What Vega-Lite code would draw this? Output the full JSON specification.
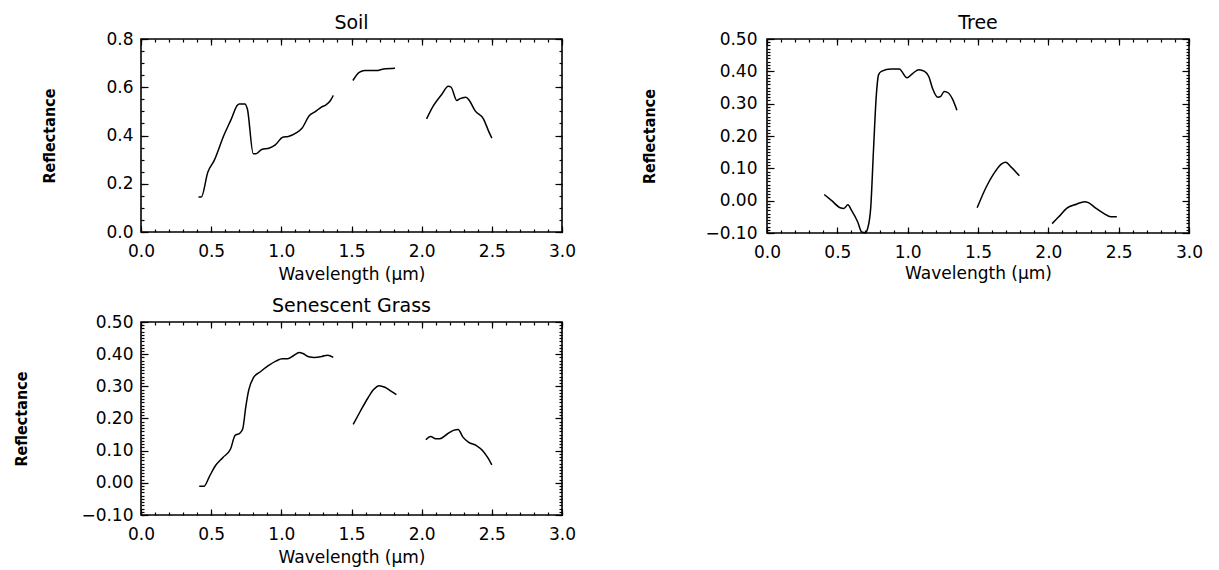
{
  "$schema": "https://vega.github.io/schema/vega-lite/v6.json",
  "padding": {"left": 12, "top": 13, "right": 5, "bottom": 2},
  "background": "white",
  "config": {
    "view": {"stroke": "black", "strokeWidth": 1.6},
    "axis": {
      "grid": false,
      "domain": false,
      "labelFont": "DejaVu Sans",
      "labelFontSize": 17,
      "labelFontWeight": "normal",
      "labelColor": "black",
      "labelFlush": false,
      "labelOverlap": false,
      "tickColor": "black",
      "tickWidth": 1.2,
      "titleColor": "black"
    },
    "axisX": {"titleFont": "DejaVu Sans", "titleFontSize": 17, "titleFontWeight": "normal"},
    "axisY": {"titleFont": "Liberation Sans Narrow, DejaVu Sans Condensed, Liberation Sans", "titleFontSize": 16, "titleFontWeight": "bold"},
    "title": {"font": "DejaVu Sans", "fontSize": 19, "fontWeight": "normal", "color": "black", "offset": -3, "frame": "group"},
    "line": {"color": "black", "strokeWidth": 1.5}
  },
  "spacing": 13,
  "vconcat": [
    {
      "spacing": 63,
      "hconcat": [
        {
          "title": "Soil",
          "width": 421,
          "height": 193,
          "data": {"values": [
            {"seg": "a", "wl": 0.41, "r": 0.145}, {"seg": "a", "wl": 0.43, "r": 0.145}, {"seg": "a", "wl": 0.476, "r": 0.248},
            {"seg": "a", "wl": 0.522, "r": 0.297}, {"seg": "a", "wl": 0.59, "r": 0.4}, {"seg": "a", "wl": 0.644, "r": 0.469},
            {"seg": "a", "wl": 0.685, "r": 0.524}, {"seg": "a", "wl": 0.7, "r": 0.531}, {"seg": "a", "wl": 0.74, "r": 0.531},
            {"seg": "a", "wl": 0.758, "r": 0.51}, {"seg": "a", "wl": 0.8, "r": 0.324}, {"seg": "a", "wl": 0.82, "r": 0.324},
            {"seg": "a", "wl": 0.86, "r": 0.342}, {"seg": "a", "wl": 0.916, "r": 0.348}, {"seg": "a", "wl": 0.957, "r": 0.361},
            {"seg": "a", "wl": 1.01, "r": 0.393}, {"seg": "a", "wl": 1.05, "r": 0.396}, {"seg": "a", "wl": 1.106, "r": 0.411},
            {"seg": "a", "wl": 1.147, "r": 0.43}, {"seg": "a", "wl": 1.2, "r": 0.483}, {"seg": "a", "wl": 1.242, "r": 0.499},
            {"seg": "a", "wl": 1.283, "r": 0.517}, {"seg": "a", "wl": 1.318, "r": 0.527}, {"seg": "a", "wl": 1.35, "r": 0.545},
            {"seg": "a", "wl": 1.37, "r": 0.566},
            {"seg": "b", "wl": 1.51, "r": 0.628}, {"seg": "b", "wl": 1.555, "r": 0.662}, {"seg": "b", "wl": 1.595, "r": 0.669},
            {"seg": "b", "wl": 1.677, "r": 0.669}, {"seg": "b", "wl": 1.73, "r": 0.676}, {"seg": "b", "wl": 1.81, "r": 0.679},
            {"seg": "c", "wl": 2.035, "r": 0.469}, {"seg": "c", "wl": 2.084, "r": 0.524}, {"seg": "c", "wl": 2.14, "r": 0.568},
            {"seg": "c", "wl": 2.19, "r": 0.604}, {"seg": "c", "wl": 2.21, "r": 0.6}, {"seg": "c", "wl": 2.25, "r": 0.545},
            {"seg": "c", "wl": 2.27, "r": 0.552}, {"seg": "c", "wl": 2.315, "r": 0.559}, {"seg": "c", "wl": 2.34, "r": 0.545},
            {"seg": "c", "wl": 2.38, "r": 0.503}, {"seg": "c", "wl": 2.44, "r": 0.469}, {"seg": "c", "wl": 2.48, "r": 0.414},
            {"seg": "c", "wl": 2.5, "r": 0.389}
          ]},
          "layer": [
            {
              "mark": {"type": "line", "interpolate": "monotone"},
              "encoding": {
                "detail": {"field": "seg"},
                "x": {"field": "wl", "type": "quantitative", "scale": {"domain": [0, 3], "nice": false, "zero": false},
                  "axis": {"orient": "bottom", "values": [0, 0.5, 1, 1.5, 2, 2.5, 3], "format": ".1f", "ticks": false, "labelPadding": 11,
                    "title": "Wavelength (μm)", "titleY": 42, "titleBaseline": "middle"}},
                "y": {"field": "r", "type": "quantitative", "scale": {"domain": [0, 0.8], "nice": false, "zero": false},
                  "axis": {"orient": "left", "values": [0, 0.2, 0.4, 0.6, 0.8], "format": ".1f", "ticks": false, "labelPadding": 8,
                    "title": "Reflectance", "titleX": -92, "titleBaseline": "middle"}}
              }
            },
            {
              "mark": {"type": "point", "opacity": 0},
              "encoding": {
                "x": {"field": "wl", "type": "quantitative", "scale": {"domain": [0, 3], "nice": false, "zero": false},
                  "axis": {"orient": "bottom", "values": [0, 0.5, 1, 1.5, 2, 2.5, 3], "labels": false, "tickSize": -6, "title": null}},
                "y": {"field": "r", "type": "quantitative", "scale": {"domain": [0, 0.8], "nice": false, "zero": false},
                  "axis": {"orient": "left", "values": [0, 0.2, 0.4, 0.6, 0.8], "labels": false, "tickSize": -7, "title": null}}
              }
            },
            {
              "mark": {"type": "point", "opacity": 0},
              "encoding": {
                "x": {"field": "wl", "type": "quantitative", "scale": {"domain": [0, 3], "nice": false, "zero": false},
                  "axis": {"orient": "top", "values": [0, 0.5, 1, 1.5, 2, 2.5, 3], "labels": false, "tickSize": -6, "title": null}},
                "y": {"field": "r", "type": "quantitative", "scale": {"domain": [0, 0.8], "nice": false, "zero": false},
                  "axis": {"orient": "right", "values": [0, 0.2, 0.4, 0.6, 0.8], "labels": false, "tickSize": -7, "title": null}}
              }
            },
            {
              "mark": {"type": "point", "opacity": 0},
              "encoding": {
                "x": {"field": "wl", "type": "quantitative", "scale": {"domain": [0, 3], "nice": false, "zero": false},
                  "axis": {"orient": "bottom", "values": [0, 0.1, 0.2, 0.3, 0.4, 0.5, 0.6, 0.7, 0.8, 0.9, 1, 1.1, 1.2, 1.3, 1.4, 1.5, 1.6, 1.7, 1.8, 1.9, 2, 2.1, 2.2, 2.3, 2.4, 2.5, 2.6, 2.7, 2.8, 2.9, 3], "labels": false, "tickSize": -3, "title": null}},
                "y": {"field": "r", "type": "quantitative", "scale": {"domain": [0, 0.8], "nice": false, "zero": false},
                  "axis": {"orient": "left", "values": [0, 0.05, 0.1, 0.15, 0.2, 0.25, 0.3, 0.35, 0.4, 0.45, 0.5, 0.55, 0.6, 0.65, 0.7, 0.75, 0.8], "labels": false, "tickSize": -3, "title": null}}
              }
            },
            {
              "mark": {"type": "point", "opacity": 0},
              "encoding": {
                "x": {"field": "wl", "type": "quantitative", "scale": {"domain": [0, 3], "nice": false, "zero": false},
                  "axis": {"orient": "top", "values": [0, 0.1, 0.2, 0.3, 0.4, 0.5, 0.6, 0.7, 0.8, 0.9, 1, 1.1, 1.2, 1.3, 1.4, 1.5, 1.6, 1.7, 1.8, 1.9, 2, 2.1, 2.2, 2.3, 2.4, 2.5, 2.6, 2.7, 2.8, 2.9, 3], "labels": false, "tickSize": -3, "title": null}},
                "y": {"field": "r", "type": "quantitative", "scale": {"domain": [0, 0.8], "nice": false, "zero": false},
                  "axis": {"orient": "right", "values": [0, 0.05, 0.1, 0.15, 0.2, 0.25, 0.3, 0.35, 0.4, 0.45, 0.5, 0.55, 0.6, 0.65, 0.7, 0.75, 0.8], "labels": false, "tickSize": -3, "title": null}}
              }
            }
          ],
          "resolve": {"axis": {"x": "independent", "y": "independent"}}
        },
        {
          "title": "Tree",
          "width": 422,
          "height": 194,
          "data": {"values": [
            {"seg": "a", "wl": 0.407, "r": 0.019}, {"seg": "a", "wl": 0.46, "r": 0.0}, {"seg": "a", "wl": 0.52, "r": -0.022},
            {"seg": "a", "wl": 0.547, "r": -0.024}, {"seg": "a", "wl": 0.575, "r": -0.013}, {"seg": "a", "wl": 0.6, "r": -0.029},
            {"seg": "a", "wl": 0.645, "r": -0.066}, {"seg": "a", "wl": 0.673, "r": -0.097}, {"seg": "a", "wl": 0.7, "r": -0.099},
            {"seg": "a", "wl": 0.715, "r": -0.087}, {"seg": "a", "wl": 0.737, "r": -0.024}, {"seg": "a", "wl": 0.757, "r": 0.156},
            {"seg": "a", "wl": 0.777, "r": 0.325}, {"seg": "a", "wl": 0.793, "r": 0.389}, {"seg": "a", "wl": 0.813, "r": 0.4},
            {"seg": "a", "wl": 0.883, "r": 0.407}, {"seg": "a", "wl": 0.94, "r": 0.407}, {"seg": "a", "wl": 0.995, "r": 0.38},
            {"seg": "a", "wl": 1.037, "r": 0.394}, {"seg": "a", "wl": 1.08, "r": 0.405}, {"seg": "a", "wl": 1.12, "r": 0.4},
            {"seg": "a", "wl": 1.15, "r": 0.384}, {"seg": "a", "wl": 1.177, "r": 0.347}, {"seg": "a", "wl": 1.214, "r": 0.32},
            {"seg": "a", "wl": 1.234, "r": 0.322}, {"seg": "a", "wl": 1.26, "r": 0.338}, {"seg": "a", "wl": 1.29, "r": 0.333},
            {"seg": "a", "wl": 1.318, "r": 0.315}, {"seg": "a", "wl": 1.35, "r": 0.28},
            {"seg": "b", "wl": 1.494, "r": -0.022}, {"seg": "b", "wl": 1.556, "r": 0.04}, {"seg": "b", "wl": 1.61, "r": 0.082},
            {"seg": "b", "wl": 1.668, "r": 0.114}, {"seg": "b", "wl": 1.696, "r": 0.119}, {"seg": "b", "wl": 1.738, "r": 0.103},
            {"seg": "b", "wl": 1.794, "r": 0.077},
            {"seg": "c", "wl": 2.027, "r": -0.071}, {"seg": "c", "wl": 2.074, "r": -0.05}, {"seg": "c", "wl": 2.13, "r": -0.024},
            {"seg": "c", "wl": 2.2, "r": -0.011}, {"seg": "c", "wl": 2.257, "r": -0.003}, {"seg": "c", "wl": 2.285, "r": -0.006},
            {"seg": "c", "wl": 2.34, "r": -0.024}, {"seg": "c", "wl": 2.396, "r": -0.04}, {"seg": "c", "wl": 2.444, "r": -0.05},
            {"seg": "c", "wl": 2.487, "r": -0.05}
          ]},
          "layer": [
            {
              "mark": {"type": "line", "interpolate": "monotone"},
              "encoding": {
                "detail": {"field": "seg"},
                "x": {"field": "wl", "type": "quantitative", "scale": {"domain": [0, 3], "nice": false, "zero": false},
                  "axis": {"orient": "bottom", "values": [0, 0.5, 1, 1.5, 2, 2.5, 3], "format": ".1f", "ticks": false, "labelPadding": 11,
                    "title": "Wavelength (μm)", "titleY": 40, "titleBaseline": "middle"}},
                "y": {"field": "r", "type": "quantitative", "scale": {"domain": [-0.1, 0.5], "nice": false, "zero": false},
                  "axis": {"orient": "left", "values": [-0.1, 0, 0.1, 0.2, 0.3, 0.4, 0.5], "format": ".2f", "ticks": false, "labelPadding": 10,
                    "title": "Reflectance", "titleX": -118, "titleBaseline": "middle"}}
              }
            },
            {
              "mark": {"type": "point", "opacity": 0},
              "encoding": {
                "x": {"field": "wl", "type": "quantitative", "scale": {"domain": [0, 3], "nice": false, "zero": false},
                  "axis": {"orient": "bottom", "values": [0, 0.5, 1, 1.5, 2, 2.5, 3], "labels": false, "tickSize": -6, "title": null}},
                "y": {"field": "r", "type": "quantitative", "scale": {"domain": [-0.1, 0.5], "nice": false, "zero": false},
                  "axis": {"orient": "left", "values": [-0.1, 0, 0.1, 0.2, 0.3, 0.4, 0.5], "labels": false, "tickSize": -7, "title": null}}
              }
            },
            {
              "mark": {"type": "point", "opacity": 0},
              "encoding": {
                "x": {"field": "wl", "type": "quantitative", "scale": {"domain": [0, 3], "nice": false, "zero": false},
                  "axis": {"orient": "top", "values": [0, 0.5, 1, 1.5, 2, 2.5, 3], "labels": false, "tickSize": -6, "title": null}},
                "y": {"field": "r", "type": "quantitative", "scale": {"domain": [-0.1, 0.5], "nice": false, "zero": false},
                  "axis": {"orient": "right", "values": [-0.1, 0, 0.1, 0.2, 0.3, 0.4, 0.5], "labels": false, "tickSize": -7, "title": null}}
              }
            },
            {
              "mark": {"type": "point", "opacity": 0},
              "encoding": {
                "x": {"field": "wl", "type": "quantitative", "scale": {"domain": [0, 3], "nice": false, "zero": false},
                  "axis": {"orient": "bottom", "values": [0, 0.1, 0.2, 0.3, 0.4, 0.5, 0.6, 0.7, 0.8, 0.9, 1, 1.1, 1.2, 1.3, 1.4, 1.5, 1.6, 1.7, 1.8, 1.9, 2, 2.1, 2.2, 2.3, 2.4, 2.5, 2.6, 2.7, 2.8, 2.9, 3], "labels": false, "tickSize": -3, "title": null}},
                "y": {"field": "r", "type": "quantitative", "scale": {"domain": [-0.1, 0.5], "nice": false, "zero": false},
                  "axis": {"orient": "left", "values": [-0.1, -0.09, -0.08, -0.07, -0.06, -0.05, -0.04, -0.03, -0.02, -0.01, 0, 0.01, 0.02, 0.03, 0.04, 0.05, 0.06, 0.07, 0.08, 0.09, 0.1, 0.11, 0.12, 0.13, 0.14, 0.15, 0.16, 0.17, 0.18, 0.19, 0.2, 0.21, 0.22, 0.23, 0.24, 0.25, 0.26, 0.27, 0.28, 0.29, 0.3, 0.31, 0.32, 0.33, 0.34, 0.35, 0.36, 0.37, 0.38, 0.39, 0.4, 0.41, 0.42, 0.43, 0.44, 0.45, 0.46, 0.47, 0.48, 0.49, 0.5], "labels": false, "tickSize": -3, "title": null}}
              }
            },
            {
              "mark": {"type": "point", "opacity": 0},
              "encoding": {
                "x": {"field": "wl", "type": "quantitative", "scale": {"domain": [0, 3], "nice": false, "zero": false},
                  "axis": {"orient": "top", "values": [0, 0.1, 0.2, 0.3, 0.4, 0.5, 0.6, 0.7, 0.8, 0.9, 1, 1.1, 1.2, 1.3, 1.4, 1.5, 1.6, 1.7, 1.8, 1.9, 2, 2.1, 2.2, 2.3, 2.4, 2.5, 2.6, 2.7, 2.8, 2.9, 3], "labels": false, "tickSize": -3, "title": null}},
                "y": {"field": "r", "type": "quantitative", "scale": {"domain": [-0.1, 0.5], "nice": false, "zero": false},
                  "axis": {"orient": "right", "values": [-0.1, -0.09, -0.08, -0.07, -0.06, -0.05, -0.04, -0.03, -0.02, -0.01, 0, 0.01, 0.02, 0.03, 0.04, 0.05, 0.06, 0.07, 0.08, 0.09, 0.1, 0.11, 0.12, 0.13, 0.14, 0.15, 0.16, 0.17, 0.18, 0.19, 0.2, 0.21, 0.22, 0.23, 0.24, 0.25, 0.26, 0.27, 0.28, 0.29, 0.3, 0.31, 0.32, 0.33, 0.34, 0.35, 0.36, 0.37, 0.38, 0.39, 0.4, 0.41, 0.42, 0.43, 0.44, 0.45, 0.46, 0.47, 0.48, 0.49, 0.5], "labels": false, "tickSize": -3, "title": null}}
              }
            }
          ],
          "resolve": {"axis": {"x": "independent", "y": "independent"}}
        }
      ]
    },
    {
      "hconcat": [
        {
          "title": "Senescent Grass",
          "width": 421,
          "height": 193,
          "data": {"values": [
            {"seg": "a", "wl": 0.415, "r": -0.011}, {"seg": "a", "wl": 0.448, "r": -0.011}, {"seg": "a", "wl": 0.489, "r": 0.021},
            {"seg": "a", "wl": 0.53, "r": 0.053}, {"seg": "a", "wl": 0.584, "r": 0.079}, {"seg": "a", "wl": 0.638, "r": 0.105},
            {"seg": "a", "wl": 0.67, "r": 0.147}, {"seg": "a", "wl": 0.706, "r": 0.155}, {"seg": "a", "wl": 0.725, "r": 0.168},
            {"seg": "a", "wl": 0.747, "r": 0.237}, {"seg": "a", "wl": 0.768, "r": 0.289}, {"seg": "a", "wl": 0.8, "r": 0.326},
            {"seg": "a", "wl": 0.855, "r": 0.347}, {"seg": "a", "wl": 0.91, "r": 0.365}, {"seg": "a", "wl": 0.964, "r": 0.379},
            {"seg": "a", "wl": 1.005, "r": 0.386}, {"seg": "a", "wl": 1.045, "r": 0.386}, {"seg": "a", "wl": 1.086, "r": 0.395},
            {"seg": "a", "wl": 1.127, "r": 0.405}, {"seg": "a", "wl": 1.154, "r": 0.402}, {"seg": "a", "wl": 1.195, "r": 0.392},
            {"seg": "a", "wl": 1.235, "r": 0.39}, {"seg": "a", "wl": 1.29, "r": 0.393}, {"seg": "a", "wl": 1.33, "r": 0.397},
            {"seg": "a", "wl": 1.37, "r": 0.39},
            {"seg": "b", "wl": 1.512, "r": 0.182}, {"seg": "b", "wl": 1.561, "r": 0.221}, {"seg": "b", "wl": 1.616, "r": 0.263},
            {"seg": "b", "wl": 1.656, "r": 0.289}, {"seg": "b", "wl": 1.697, "r": 0.302}, {"seg": "b", "wl": 1.738, "r": 0.297},
            {"seg": "b", "wl": 1.778, "r": 0.286}, {"seg": "b", "wl": 1.82, "r": 0.274},
            {"seg": "c", "wl": 2.03, "r": 0.134}, {"seg": "c", "wl": 2.064, "r": 0.144}, {"seg": "c", "wl": 2.1, "r": 0.137},
            {"seg": "c", "wl": 2.13, "r": 0.137}, {"seg": "c", "wl": 2.18, "r": 0.151}, {"seg": "c", "wl": 2.226, "r": 0.163},
            {"seg": "c", "wl": 2.26, "r": 0.166}, {"seg": "c", "wl": 2.294, "r": 0.142}, {"seg": "c", "wl": 2.335, "r": 0.126},
            {"seg": "c", "wl": 2.39, "r": 0.116}, {"seg": "c", "wl": 2.435, "r": 0.1}, {"seg": "c", "wl": 2.47, "r": 0.079},
            {"seg": "c", "wl": 2.5, "r": 0.056}
          ]},
          "layer": [
            {
              "mark": {"type": "line", "interpolate": "monotone"},
              "encoding": {
                "detail": {"field": "seg"},
                "x": {"field": "wl", "type": "quantitative", "scale": {"domain": [0, 3], "nice": false, "zero": false},
                  "axis": {"orient": "bottom", "values": [0, 0.5, 1, 1.5, 2, 2.5, 3], "format": ".1f", "ticks": false, "labelPadding": 11,
                    "title": "Wavelength (μm)", "titleY": 42, "titleBaseline": "middle"}},
                "y": {"field": "r", "type": "quantitative", "scale": {"domain": [-0.1, 0.5], "nice": false, "zero": false},
                  "axis": {"orient": "left", "values": [-0.1, 0, 0.1, 0.2, 0.3, 0.4, 0.5], "format": ".2f", "ticks": false, "labelPadding": 8,
                    "title": "Reflectance", "titleX": -120, "titleBaseline": "middle"}}
              }
            },
            {
              "mark": {"type": "point", "opacity": 0},
              "encoding": {
                "x": {"field": "wl", "type": "quantitative", "scale": {"domain": [0, 3], "nice": false, "zero": false},
                  "axis": {"orient": "bottom", "values": [0, 0.5, 1, 1.5, 2, 2.5, 3], "labels": false, "tickSize": -6, "title": null}},
                "y": {"field": "r", "type": "quantitative", "scale": {"domain": [-0.1, 0.5], "nice": false, "zero": false},
                  "axis": {"orient": "left", "values": [-0.1, 0, 0.1, 0.2, 0.3, 0.4, 0.5], "labels": false, "tickSize": -7, "title": null}}
              }
            },
            {
              "mark": {"type": "point", "opacity": 0},
              "encoding": {
                "x": {"field": "wl", "type": "quantitative", "scale": {"domain": [0, 3], "nice": false, "zero": false},
                  "axis": {"orient": "top", "values": [0, 0.5, 1, 1.5, 2, 2.5, 3], "labels": false, "tickSize": -6, "title": null}},
                "y": {"field": "r", "type": "quantitative", "scale": {"domain": [-0.1, 0.5], "nice": false, "zero": false},
                  "axis": {"orient": "right", "values": [-0.1, 0, 0.1, 0.2, 0.3, 0.4, 0.5], "labels": false, "tickSize": -7, "title": null}}
              }
            },
            {
              "mark": {"type": "point", "opacity": 0},
              "encoding": {
                "x": {"field": "wl", "type": "quantitative", "scale": {"domain": [0, 3], "nice": false, "zero": false},
                  "axis": {"orient": "bottom", "values": [0, 0.1, 0.2, 0.3, 0.4, 0.5, 0.6, 0.7, 0.8, 0.9, 1, 1.1, 1.2, 1.3, 1.4, 1.5, 1.6, 1.7, 1.8, 1.9, 2, 2.1, 2.2, 2.3, 2.4, 2.5, 2.6, 2.7, 2.8, 2.9, 3], "labels": false, "tickSize": -3, "title": null}},
                "y": {"field": "r", "type": "quantitative", "scale": {"domain": [-0.1, 0.5], "nice": false, "zero": false},
                  "axis": {"orient": "left", "values": [-0.1, -0.09, -0.08, -0.07, -0.06, -0.05, -0.04, -0.03, -0.02, -0.01, 0, 0.01, 0.02, 0.03, 0.04, 0.05, 0.06, 0.07, 0.08, 0.09, 0.1, 0.11, 0.12, 0.13, 0.14, 0.15, 0.16, 0.17, 0.18, 0.19, 0.2, 0.21, 0.22, 0.23, 0.24, 0.25, 0.26, 0.27, 0.28, 0.29, 0.3, 0.31, 0.32, 0.33, 0.34, 0.35, 0.36, 0.37, 0.38, 0.39, 0.4, 0.41, 0.42, 0.43, 0.44, 0.45, 0.46, 0.47, 0.48, 0.49, 0.5], "labels": false, "tickSize": -3, "title": null}}
              }
            },
            {
              "mark": {"type": "point", "opacity": 0},
              "encoding": {
                "x": {"field": "wl", "type": "quantitative", "scale": {"domain": [0, 3], "nice": false, "zero": false},
                  "axis": {"orient": "top", "values": [0, 0.1, 0.2, 0.3, 0.4, 0.5, 0.6, 0.7, 0.8, 0.9, 1, 1.1, 1.2, 1.3, 1.4, 1.5, 1.6, 1.7, 1.8, 1.9, 2, 2.1, 2.2, 2.3, 2.4, 2.5, 2.6, 2.7, 2.8, 2.9, 3], "labels": false, "tickSize": -3, "title": null}},
                "y": {"field": "r", "type": "quantitative", "scale": {"domain": [-0.1, 0.5], "nice": false, "zero": false},
                  "axis": {"orient": "right", "values": [-0.1, -0.09, -0.08, -0.07, -0.06, -0.05, -0.04, -0.03, -0.02, -0.01, 0, 0.01, 0.02, 0.03, 0.04, 0.05, 0.06, 0.07, 0.08, 0.09, 0.1, 0.11, 0.12, 0.13, 0.14, 0.15, 0.16, 0.17, 0.18, 0.19, 0.2, 0.21, 0.22, 0.23, 0.24, 0.25, 0.26, 0.27, 0.28, 0.29, 0.3, 0.31, 0.32, 0.33, 0.34, 0.35, 0.36, 0.37, 0.38, 0.39, 0.4, 0.41, 0.42, 0.43, 0.44, 0.45, 0.46, 0.47, 0.48, 0.49, 0.5], "labels": false, "tickSize": -3, "title": null}}
              }
            }
          ],
          "resolve": {"axis": {"x": "independent", "y": "independent"}}
        }
      ]
    }
  ]
}
